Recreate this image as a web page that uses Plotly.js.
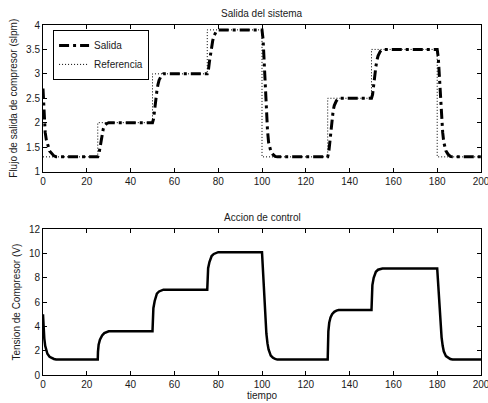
<!DOCTYPE html>
<html>
<head>
<meta charset="utf-8">
<script src="https://cdn.plot.ly/plotly-3.0.1.min.js"></script>
<style>html,body{margin:0;padding:0;background:#fff;}#chart{width:488px;height:403px;}</style>
</head>
<body>
<div id="chart"></div>
<script>
// Salida (system output)
var salidaT = [0,0.3,0.7,1,1.5,2,2.5,3,4,5,6,25,
  25.5,26,26.5,27,27.5,28,29,30,50,
  50.5,51,51.5,52,52.5,53,54,55,75,
  75.5,76,76.5,77,77.5,78,79,80,100,
  100.5,101,101.5,102,102.5,103,104,105,106,107,130,
  130.5,131,131.5,132,132.5,133,134,135,150,
  150.5,151,151.5,152,152.5,153,154,155,180,
  180.5,181,181.5,182,182.5,183,184,185,186,187,200];
var salidaV = [2.7,2.3,1.95,1.8,1.65,1.55,1.5,1.42,1.36,1.32,1.3,1.3,
  1.35,1.5,1.65,1.78,1.87,1.93,1.98,2.0,2.0,
  2.08,2.3,2.5,2.65,2.78,2.87,2.96,3.0,3.0,
  3.07,3.25,3.43,3.57,3.68,3.77,3.86,3.9,3.9,
  3.7,3.2,2.65,2.2,1.85,1.6,1.42,1.35,1.31,1.3,1.3,
  1.4,1.65,1.9,2.1,2.25,2.35,2.45,2.5,2.5,
  2.58,2.8,3.0,3.15,3.28,3.37,3.46,3.5,3.5,
  3.33,2.95,2.5,2.1,1.8,1.6,1.42,1.35,1.31,1.3,1.3];
// Referencia (step setpoint)
var refT = [0,25,50,75,100,130,150,180,200];
var refV = [1.3,2.0,3.0,3.9,1.3,2.5,3.5,1.3,1.3];
// Accion de control
var ctrlT = [0,0.3,0.6,1,1.5,2,3,4,5,6,25,
  25.1,25.4,26,27,28,29,30,50,
  50.1,50.4,51,51.5,52,53,54,55,75,
  75.1,75.4,76,76.5,77,78,79,80,100,
  100.5,101,101.5,102,102.5,103,104,105,106,107,130,
  130.1,130.3,130.7,131.3,132,133,134,135,150,
  150.1,150.4,151,151.5,152,153,154,155,180,
  180.5,181,181.5,182,182.5,183,184,185,186,187,200];
var ctrlV = [5.0,3.8,3.0,2.4,2.0,1.75,1.5,1.38,1.32,1.27,1.27,
  1.9,2.5,2.9,3.25,3.45,3.55,3.6,3.6,
  4.6,5.5,6.1,6.45,6.7,6.88,6.97,7.03,7.03,
  8.0,8.8,9.3,9.6,9.8,9.97,10.05,10.12,10.12,
  8.2,6.3,4.6,3.4,2.6,2.1,1.6,1.42,1.33,1.27,1.27,
  2.5,3.6,4.3,4.75,5.0,5.2,5.3,5.35,5.35,
  6.4,7.4,8.0,8.3,8.5,8.67,8.74,8.77,8.77,
  7.2,5.6,4.2,3.1,2.4,1.95,1.55,1.4,1.32,1.27,1.27];

var xTicks = [0,20,40,60,80,100,120,140,160,180,200];
var yTopTicks = [1,1.5,2,2.5,3,3.5,4];
var yBotTicks = [0,2,4,6,8,10,12];

var axFont = {family:'Liberation Sans, Arial, sans-serif', size:10, color:'#1a1a1a'};
function xAxis(anchor, titleText){
  return {anchor:anchor, range:[0,200], tickmode:'array', tickvals:xTicks, ticks:'inside', ticklen:4,
    tickcolor:'#000', showline:true, linecolor:'#000', linewidth:1, mirror:'ticks', showgrid:false,
    zeroline:false, tickfont:axFont, ticklabeloverflow:'allow',
    title:{text:titleText, font:axFont, standoff:2}};
}
function yAxis(anchor, domain, rng, ticks, titleText){
  return {anchor:anchor, domain:domain, range:rng, tickmode:'array', tickvals:ticks, ticks:'inside', ticklen:4,
    tickcolor:'#000', showline:true, linecolor:'#000', linewidth:1, mirror:'ticks', showgrid:false,
    zeroline:false, tickfont:axFont, ticklabeloverflow:'allow',
    title:{text:titleText, font:axFont, standoff:6}};
}

var traces = [
  {x:salidaT, y:salidaV, xaxis:'x', yaxis:'y', mode:'lines', name:'Salida',
   line:{color:'#000', width:3, dash:'10px,4px,3px,4px'}},
  {x:refT, y:refV, xaxis:'x', yaxis:'y', mode:'lines', name:'Referencia',
   line:{color:'#000', width:1, dash:'1px,2px', shape:'hv'}},
  {x:ctrlT, y:ctrlV, xaxis:'x2', yaxis:'y2', mode:'lines', name:'Accion', showlegend:false,
   line:{color:'#000', width:2.5}}
];

var layout = {
  width:488, height:403,
  margin:{l:43, r:7, t:25, b:28},
  paper_bgcolor:'#fff', plot_bgcolor:'#fff',
  font:axFont,
  xaxis: xAxis('y', ''),
  yaxis: yAxis('x', [0.5814,1], [1,4], yTopTicks, 'Flujo de salida de compresor (slpm)'),
  xaxis2: xAxis('y2', 'tiempo'),
  yaxis2: yAxis('x2', [0,0.4163], [0,12], yBotTicks, 'Tension de Compresor (V)'),
  showlegend:true,
  legend:{x:0.023, y:0.986, xanchor:'left', yanchor:'top', bgcolor:'#fff', bordercolor:'#000', borderwidth:1,
    font:axFont, tracegroupgap:0},
  annotations:[
    {text:'Salida del sistema', xref:'paper', yref:'paper', x:0.5, y:1, yanchor:'bottom', yshift:4, showarrow:false, font:axFont},
    {text:'Accion de control', xref:'paper', yref:'paper', x:0.5, y:0.4163, yanchor:'bottom', yshift:4, showarrow:false, font:axFont}
  ]
};

Plotly.newPlot('chart', traces, layout, {displayModeBar:false, staticPlot:true});
</script>
</body>
</html>
